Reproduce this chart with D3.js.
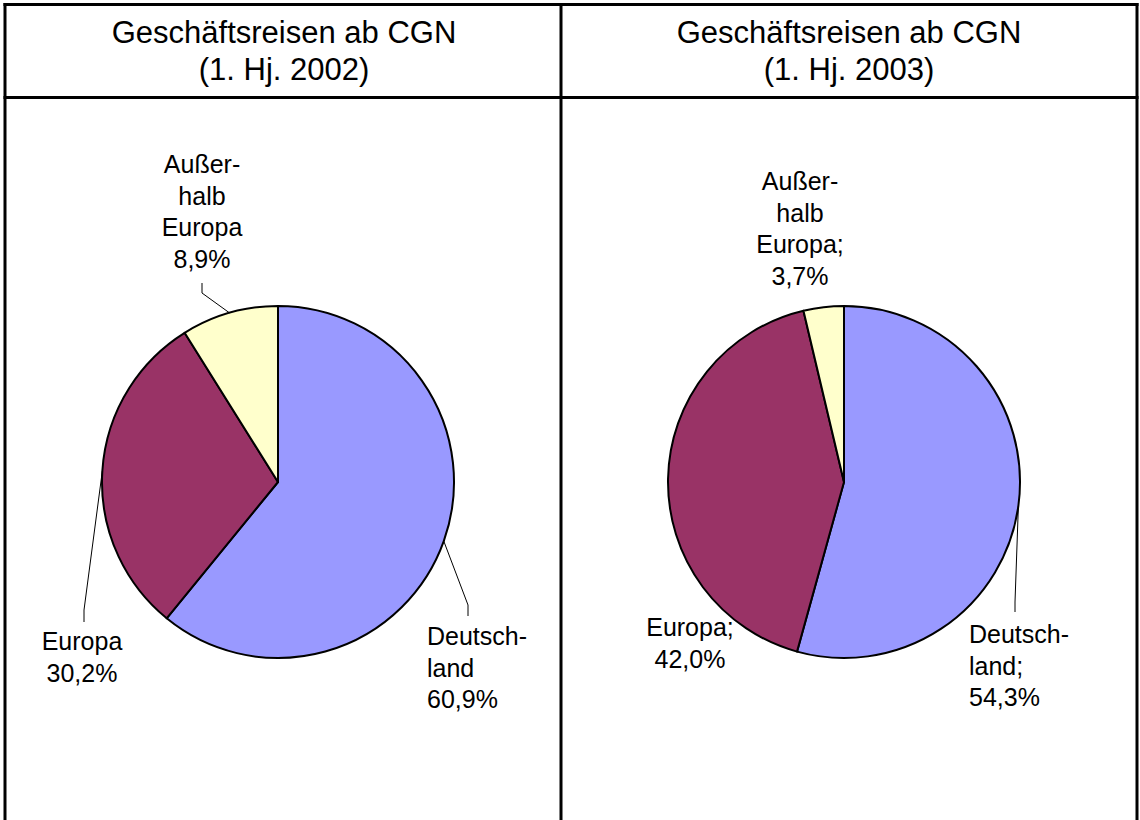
<!DOCTYPE html>
<html>
<head>
<meta charset="utf-8">
<style>
body { margin: 0; background: #fff; }
svg { display: block; font-family: Arial, "Liberation Sans", sans-serif; }
</style>
</head>
<body>
<svg width="1140" height="820"></svg>
<script src="https://cdn.jsdelivr.net/npm/d3@7/dist/d3.min.js"></script>
<script>

// data
var categories = ["Deutschland", "Europa", "Außerhalb Europa"];
var share2002 = [60.9, 30.2, 8.9];
var share2003 = [54.3, 42.0, 3.7];
var titleLine1 = ["Geschäftsreisen ab CGN", "Geschäftsreisen ab CGN"];
var titleLine2 = ["(1. Hj. 2002)", "(1. Hj. 2003)"];
var nameLines = [["Deutsch-", "land"], ["Europa"], ["Außer-", "halb", "Europa"]];
var separators = ["", ";"];   // 2003 labels use "Name; value"
var colors = ["#9999FF", "#993366", "#FFFFCC"];

var svg = d3.select("svg");
var fmt = function(v){ return d3.format(".1f")(v).replace(".", ",") + "%"; };

// table frame
var frame = svg.append("g").attr("stroke", "#000").attr("stroke-width", 3);
frame.append("line").attr("x1", 5).attr("x2", 5).attr("y1", 3).attr("y2", 820);
frame.append("line").attr("x1", 1137).attr("x2", 1137).attr("y1", 3).attr("y2", 820);
frame.append("line").attr("x1", 561).attr("x2", 561).attr("y1", 3).attr("y2", 820);
frame.append("line").attr("x1", 3.5).attr("x2", 1138.5).attr("y1", 4.5).attr("y2", 4.5);
frame.append("line").attr("x1", 3.5).attr("x2", 1138.5).attr("y1", 97.5).attr("y2", 97.5);

// titles
[0, 1].forEach(function(i){
  var cx = i == 0 ? 284 : 849;
  svg.append("text").attr("x", cx).attr("y", 43).attr("text-anchor", "middle")
    .style("font-size", "31px").text(titleLine1[i]);
  svg.append("text").attr("x", cx).attr("y", 80).attr("text-anchor", "middle")
    .style("font-size", "31px").text(titleLine2[i]);
});

// layout of each pie: centre, radius, label spots and leader elbows
var layouts = [
  { cx: 278, cy: 482, r: 176,
    labels: [ {x: 427, y: 645, anchor: "start"},
              {x: 82,  y: 650, anchor: "middle"},
              {x: 202, y: 173, anchor: "middle"} ],
    leaders: [ [[468, 605], [468, 616]],
               [[84, 610], [84, 622]],
               [[202, 293], [202, 283]] ] },
  { cx: 844, cy: 482, r: 176,
    labels: [ {x: 969, y: 643, anchor: "start"},
              {x: 690, y: 636, anchor: "middle"},
              {x: 800, y: 190, anchor: "middle"} ],
    leaders: [ [[1015, 602], [1015, 612]], null, null ] }
];

var pie = d3.pie().sort(null).value(function(d){ return d; });

[share2002, share2003].forEach(function(values, i){
  var L = layouts[i];
  var arc = d3.arc().innerRadius(0).outerRadius(L.r);
  var edge = d3.arc().innerRadius(L.r).outerRadius(L.r);
  var g = svg.append("g").attr("transform", "translate(" + L.cx + "," + L.cy + ")");
  var slices = pie(values);

  g.selectAll("path.slice")
    .data(slices)
    .enter().append("path")
    .attr("class", "slice")
    .attr("d", arc)
    .attr("fill", function(d, k){ return colors[k]; })
    .attr("stroke", "#000")
    .attr("stroke-width", 2)
    .attr("stroke-linejoin", "round");

  // leader lines
  slices.forEach(function(d, k){
    var pts = L.leaders[k];
    if (!pts) return;
    var c = edge.centroid(d);
    var path = [[L.cx + c[0], L.cy + c[1]]].concat(pts);
    svg.append("path")
      .attr("d", d3.line()(path))
      .attr("fill", "none")
      .attr("stroke", "#000")
      .attr("stroke-width", 1);
  });

  // labels
  slices.forEach(function(d, k){
    var lab = L.labels[k];
    var lines = nameLines[k].slice();
    lines[lines.length - 1] += separators[i];
    lines.push(fmt(values[k]));
    var t = svg.append("text")
      .attr("x", lab.x).attr("y", lab.y)
      .attr("text-anchor", lab.anchor)
      .style("font-size", "25px");
    lines.forEach(function(s, j){
      t.append("tspan").attr("x", lab.x).attr("dy", j == 0 ? 0 : 31.5).text(s);
    });
  });
});
</script>
</body>
</html>
